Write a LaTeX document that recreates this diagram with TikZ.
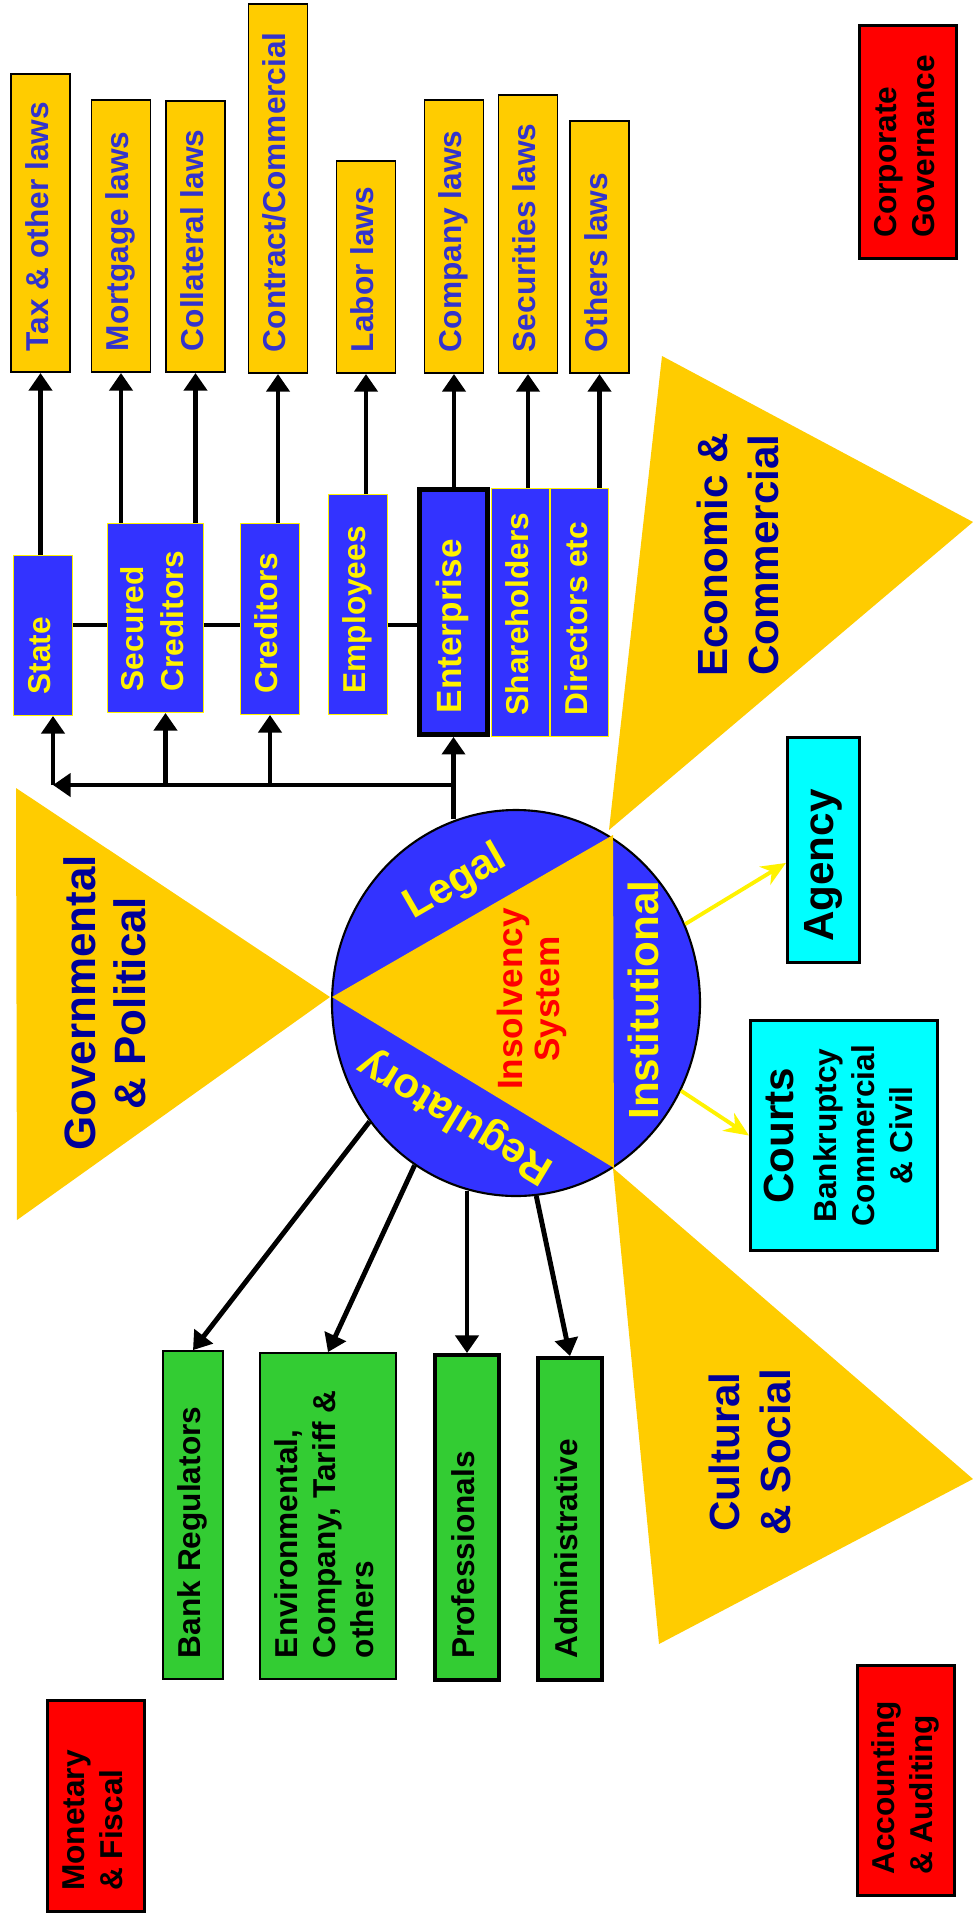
\documentclass[tikz,border=0pt]{standalone}
\usepackage{fontspec}
\setmainfont{Liberation Sans}
\usepackage{graphicx}
\usetikzlibrary{arrows.meta,shapes.geometric}

\definecolor{gold}{HTML}{FFCC00}
\definecolor{royal}{HTML}{3333FF}
\definecolor{lawblue}{HTML}{3333CC}
\definecolor{navy}{HTML}{000099}
\definecolor{leaf}{HTML}{33CC33}
\definecolor{aqua}{HTML}{00FFFF}

% vertical text, read from bottom to top
\newcommand{\vtext}[3][l]{\rotatebox{90}{\makebox[#2][#1]{\begin{tabular}{@{}#1@{}}#3\end{tabular}}}}

\tikzset{
  lawbox/.style={draw, line width=1pt, fill=gold, text=lawblue, anchor=south,
    minimum width=11.8mm, inner xsep=0pt, inner ysep=4.2mm,
    font=\fontsize{18}{22}\selectfont\bfseries},
  partybox/.style={draw=yellow, line width=0.8pt, fill=royal, text=yellow,
    minimum width=11.7mm, inner xsep=0pt, inner ysep=4.2mm,
    font=\fontsize{18}{22.5}\selectfont\bfseries},
  regbox/.style={draw, line width=1pt, fill=leaf, minimum width=12mm,
    inner xsep=0pt, inner ysep=4.2mm, font=\fontsize{18}{21.5}\selectfont\bfseries},
  courtbox/.style={draw, line width=1.5pt, fill=aqua, inner xsep=0pt, inner ysep=4.2mm},
  outerbox/.style={draw, line width=1.5pt, fill=red, minimum width=19.5mm,
    inner xsep=0pt, inner ysep=4.2mm, font=\fontsize{18}{21.5}\selectfont\bfseries},
  envlabel/.style={text=navy, align=center, rotate=90, font=\fontsize{24}{29}\selectfont\bfseries},
  seglabel/.style={text=yellow, font=\fontsize{24}{28}\selectfont\bfseries},
  link/.style={line width=2.8pt},
  arr/.style={line width=2.8pt, -{Triangle[width=13pt,length=10pt]}},
  yarr/.style={yellow, line width=2.2pt, -{Stealth[width=12pt,length=14pt]}}
}

\begin{document}
\begin{tikzpicture}[x=0.2mm, y=-0.2mm]
  \useasboundingbox (0,0) rectangle (973,1917);

  % Environment triangles
  \fill[gold] (16,788) -- (17,1220) -- (330,997) -- cycle;
  \fill[gold] (662,356) -- (973,522) -- (609,830) -- cycle;
  \fill[gold] (613,1168) -- (973,1479) -- (659,1644) -- cycle;
  \node[envlabel, font=\fontsize{25}{28.5}\selectfont\bfseries] (govtext) at (105,1003) {Governmental\\ \& Political};
  \node[envlabel] (econtext) at (738,555) {Economic \&\\Commercial};
  \node[envlabel] (culttext) at (750,1452) {Cultural\\ \& Social};

  % Insolvency system
  \node[ellipse, draw, line width=1.2pt, fill=royal, minimum width=73.6mm,
    minimum height=77.2mm, inner sep=0pt] (ell) at (516,1003) {};
  \fill[gold] (332,997) -- (613,835) -- (614,1168) -- cycle;
  \node[seglabel, rotate=30] (legal) at (456,883) {Legal};
  \node[seglabel, rotate=90] (inst) at (643,1000) {Institutional};
  \node[seglabel, rotate=149] (reg) at (456,1116) {Regulatory};
  \node[text=red, align=center, rotate=90, font=\fontsize{20}{21}\selectfont\bfseries]
    (core) at (532,999) {Insolvency\\System};

  % Laws
  \node[lawbox] (tax) at (40.5,373) {\vtext{51.2mm}{Tax \& other laws}};
  \node[lawbox] (mort) at (121,373) {\vtext{46mm}{Mortgage laws}};
  \node[lawbox] (coll) at (195.5,373) {\vtext{45.8mm}{Collateral laws}};
  \node[lawbox] (contr) at (278,374) {\vtext{65.4mm}{Contract/Commercial}};
  \node[lawbox] (labor) at (366,374) {\vtext{34mm}{Labor laws}};
  \node[lawbox] (comp) at (454,374) {\vtext{46.2mm}{Company laws}};
  \node[lawbox] (secu) at (528,374) {\vtext{47.2mm}{Securities laws}};
  \node[lawbox] (oth) at (599.5,374) {\vtext{42mm}{Others laws}};

  % Stakeholders
  \node[partybox] (state) at (43,635.5) {\vtext{23.5mm}{State}};
  \node[partybox, minimum width=19.1mm] (sec) at (155.5,618) {\vtext{29.3mm}{Secured\\Creditors}};
  \node[partybox] (cred) at (270,619) {\vtext{29.7mm}{Creditors}};
  \node[partybox] (emp) at (358,604.5) {\vtext{35.5mm}{Employees}};
  \node[partybox, draw=black, line width=3pt, minimum width=13.5mm,
    font=\fontsize{20}{24}\selectfont\bfseries] (ent) at (453.5,612) {\vtext{40.5mm}{Enterprise}};
  \node[partybox, minimum width=11.6mm] (share) at (520.5,612.5) {\vtext{41.1mm}{Shareholders}};
  \node[partybox, minimum width=11.6mm] (dir) at (579.5,612.5) {\vtext{41.1mm}{Directors etc}};

  % Institutions
  \node[courtbox, minimum width=14.5mm, font=\fontsize{24}{28}\selectfont\bfseries]
    (agency) at (823.5,850) {\vtext{36.7mm}{Agency}};
  \node[courtbox, minimum width=37.5mm, font=\fontsize{18}{21.5}\selectfont\bfseries]
    (courts) at (844,1135.5) {\vtext[c]{37.7mm}{{\fontsize{24}{28}\selectfont Courts}\\[3pt]
      Bankruptcy\\Commercial\\\& Civil}};

  % Regulators
  \node[regbox] (bank) at (193,1515) {\vtext{57.2mm}{Bank Regulators}};
  \node[regbox, minimum width=27.2mm] (env) at (328,1516) {\vtext{56.8mm}{Environmental,\\Company, Tariff \&\\others}};
  \node[regbox, line width=2.5pt, minimum width=12.7mm] (prof) at (467,1517.5) {\vtext{56.5mm}{Professionals}};
  \node[regbox, line width=2.5pt, minimum width=12.7mm] (admin) at (570,1519) {\vtext{55.9mm}{Administrative}};

  % Frame conditions
  \node[outerbox] (corp) at (908,142) {\vtext{38.3mm}{Corporate\\Governance}};
  \node[outerbox] (monet) at (96,1806) {\vtext{33.9mm}{Monetary\\\& Fiscal}};
  \node[outerbox] (acct) at (906,1780.5) {\vtext{37.7mm}{Accounting\\\& Auditing}};

  % Stakeholders to laws
  \draw[arr] (tax.south |- state.north) -- (tax.south);
  \draw[arr] (mort.south |- sec.north) -- (mort.south);
  \draw[arr] (coll.south |- sec.north) -- (coll.south);
  \draw[arr] (contr.south |- cred.north) -- (contr.south);
  \draw[arr] (labor.south |- emp.north) -- (labor.south);
  \draw[arr] (comp.south |- ent.north) -- (comp.south);
  \draw[arr] (secu.south |- share.north) -- (secu.south);
  \draw[arr] (oth.south |- dir.north) -- (oth.south);

  % Links between stakeholders
  \coordinate (row) at (0,625);
  \draw[link] (state.east |- row) -- (sec.west |- row);
  \draw[link] (sec.east |- row) -- (cred.west |- row);
  \draw[link] (emp.east |- row) -- (ent.west |- row);

  % Legal side to stakeholders
  \coordinate (busL) at (53,785);
  \coordinate (secin) at ([xshift=2mm]sec.south);
  \draw[arr] (ent.south |- ell.108) -- (ent.south);
  \draw[arr] (ent.south |- busL) -- (busL);
  \draw[arr] (busL) -- (busL |- state.south);
  \draw[arr] (secin |- busL) -- (secin);
  \draw[arr] (cred.south |- busL) -- (cred.south);

  % Institutional side
  \draw[yarr] (ell.25) -- (agency.199);
  \draw[yarr] (ell.332) -- (courts.west);

  % Regulatory side
  \draw[arr] (ell.219) -- (bank.north);
  \draw[arr] (ell.238) -- (env.north);
  \draw[arr] (prof.north |- ell.256) -- (prof.north);
  \draw[arr] (ell.276) -- (admin.north);
\end{tikzpicture}
\end{document}
